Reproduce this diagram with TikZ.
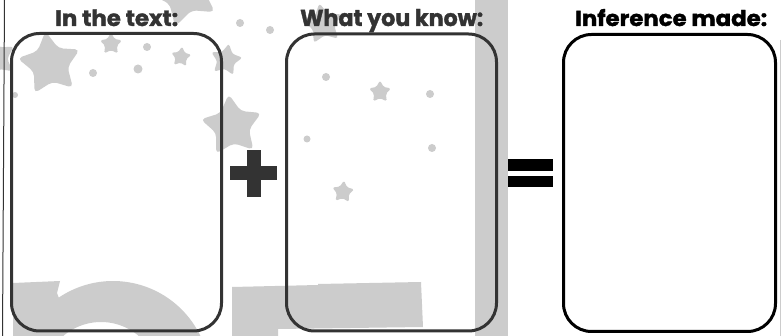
\documentclass[tikz,border=0pt]{standalone}
\usepackage{fontspec}
\newfontfamily\headfont{Poppins}[BoldFeatures={FakeBold=1.5}]
\usetikzlibrary{shapes.geometric}
\definecolor{bg}{HTML}{CCCCCC}
\definecolor{ink}{HTML}{333333}
\begin{document}
\begin{tikzpicture}[x=1pt,y=-1pt,
  gstar/.style={star, star points=5, star point ratio=1.85, fill=bg, draw=none, inner sep=0pt, minimum size=#1, rounded corners=0.07*#1},
  gdot/.style={circle, fill=bg, draw=none, inner sep=0pt},
  frame/.style={draw=#1, line width=3pt, rounded corners=28pt, inner sep=0pt},
  head/.style={font=\headfont\bfseries, inner sep=0pt, anchor=base west},
]
\useasboundingbox (0,0) rectangle (782,336);
\fill[white] (0,0) rectangle (782,336);
\clip (0,0) rectangle (782,336);
% background grey shapes
\fill[bg] (475,0) rectangle (508,336);
\fill[bg] (232,336)--(232,287)--(318,285)--(318,284)--(421,282)--(423,327)--(278,329)--(278,336)--cycle;
\fill[bg] (13,336)--(13,283)--(60,281)--(57,293)
  -- plot[domain=124:25.7,samples=40] ({113+97*cos(\x)},{378-97*sin(\x)})
  -- (139,336)
  -- plot[domain=49.3:130.7,samples=30] ({101+58*cos(\x)},{380-58*sin(\x)})
  -- (63,336) -- cycle;
% stars
\node[gstar=66pt, rotate=8] (sA) at (50,64) {};
\node[gstar=23pt] (sB) at (111,44) {};
\node[gstar=21pt, rotate=-6] (sC) at (181,57) {};
\node[gstar=33pt, rotate=-10] (sD) at (226,60) {};
\node[gstar=72pt, rotate=20] (sE) at (185,-8) {};
\node[gstar=64pt, rotate=6] (sF) at (232,126) {};
\node[gstar=42pt, rotate=10] (sG) at (323,24) {};
\node[gstar=23pt] (sH) at (380,92) {};
\node[gstar=23pt, rotate=-5] (sI) at (343,192) {};
\node[gstar=42pt, rotate=15] (sJ) at (-4,58) {};
% dots
\node[gdot, minimum size=8pt] (d1) at (93,73) {};
\node[gdot, minimum size=6pt] (d2) at (15,95) {};
\node[gdot, minimum size=8pt] (d3) at (147,47) {};
\node[gdot, minimum size=9pt] (d4) at (138,69) {};
\node[gdot, minimum size=8pt] (d5) at (240,23) {};
\node[gdot, minimum size=8pt] (d6) at (270,30) {};
\node[gdot, minimum size=8pt] (d7) at (326,77) {};
\node[gdot, minimum size=8pt] (d8) at (430,94) {};
\node[gdot, minimum size=7pt] (d9) at (307,139) {};
\node[gdot, minimum size=8pt] (d10) at (432,148) {};
% edge lines
\draw[ink, line width=1pt] (4.5,0) -- (2.5,336);
\draw[bg, line width=1pt] (780.5,40) -- (780.5,336);
% boxes
\node[frame=ink, minimum width=210pt, minimum height=297.5pt] (b1) at (116.5,182.25) {};
\node[frame=ink, minimum width=210pt, minimum height=297pt] (b2) at (391.5,182.5) {};
\node[frame=black, minimum width=212pt, minimum height=297pt] (b3) at (669.5,183) {};
% headings
\node[head, text=ink] (h1) at (55,26) {\resizebox{123pt}{16.5pt}{In the text:}};
\node[head, text=ink] (h2) at (300,26) {\resizebox{183pt}{17pt}{What you know:}};
\node[head, text=black] (h3) at (575,26) {\resizebox{192pt}{17pt}{Inference made:}};
% plus and equals
\fill[ink] (247,150) rectangle (261,197);
\fill[ink] (230,166) rectangle (277,180);
\fill[black] (508,159) rectangle (553,171);
\fill[black] (508,176) rectangle (553,187);
\end{tikzpicture}
\end{document}
